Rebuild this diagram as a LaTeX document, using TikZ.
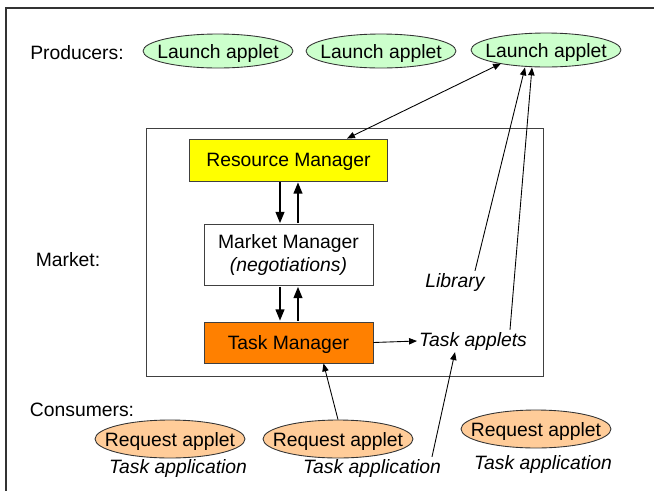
\documentclass[tikz,border=0pt]{standalone}
\usepackage{fontspec}
\setmainfont{Liberation Sans}
\usetikzlibrary{arrows.meta,positioning,shapes.geometric}
\definecolor{launchfill}{HTML}{CCFFCC}
\definecolor{requestfill}{HTML}{FFCC99}
\definecolor{rmfill}{HTML}{FFFF00}
\definecolor{tmfill}{HTML}{FF8000}

\begin{document}
\begin{tikzpicture}[
  x=0.02cm, y=-0.02cm,
  font=\fontsize{11}{13}\selectfont,
  box/.style={draw=black!75, line width=0.5pt, align=center, inner sep=0pt, minimum width=3.38cm},
  applet/.style={ellipse, draw=black!80, line width=0.5pt, inner sep=0pt, text depth=0pt, minimum width=3cm, minimum height=0.68cm},
  lbl/.style={inner sep=1pt, text depth=0pt},
  note/.style={inner sep=1pt, font=\fontsize{11}{13}\selectfont\itshape},
  arr/.style={-{Triangle[length=4.5pt,width=3.6pt]}, line width=0.5pt},
  biarr/.style={{Triangle[length=4.5pt,width=3.6pt]}-{Triangle[length=4.5pt,width=3.6pt]}, line width=0.5pt},
  thk/.style={-{Triangle[length=6.5pt,width=5pt]}, line width=1.1pt, shorten >=0.5pt, shorten <=0.5pt}
]
\useasboundingbox (0,0) rectangle (654,491);
% page frame (only top and left edges show)
\draw[black!80, line width=0.7pt] (6,491) -- (6,8) -- (654,8);

% producers
\node[lbl] (producers) at (77,52) {Producers:};
\node[applet, fill=launchfill] (launch1) at (218,51) {\makebox[0pt]{Launch applet}};
\node[applet, fill=launchfill] (launch2) at (381,51) {\makebox[0pt]{Launch applet}};
\node[applet, fill=launchfill] (launch3) at (546,50) {\makebox[0pt]{Launch applet}};

% market
\node[lbl] (marketlbl) at (68,259) {Market:};
\node[draw=black!75, line width=0.5pt, minimum width=7.94cm, minimum height=4.96cm] (market) at (344.5,252) {};
\node[box, fill=rmfill, text depth=0pt, minimum width=3.96cm, minimum height=0.84cm] (rm) at (288.5,160) {Resource Manager};
\node[box, fill=white, minimum height=1.22cm] (mm) at (288.5,255) {Market Manager\\\textit{(negotiations)}};
\node[box, fill=tmfill, text depth=0pt, minimum height=0.82cm] (tm) at (288.5,342.5) {Task Manager};
\node[note] (library) at (455,282) {Library};
\node[note] (taskapp) at (473,341) {Task applets};

% consumers
\node[lbl] (consumers) at (82,410) {Consumers:};
\node[applet, fill=requestfill, minimum height=0.76cm] (request1) at (170,439) {\makebox[0pt]{Request applet}};
\node[applet, fill=requestfill, minimum height=0.76cm] (request2) at (338,439) {\makebox[0pt]{Request applet}};
\node[applet, fill=requestfill, minimum height=0.76cm] (request3) at (536,429) {\makebox[0pt]{Request applet}};
\node[note] (tapp1) at (178,468) {Task application};
\node[note] (tapp2) at (372,468) {Task application};
\node[note] (tapp3) at (543,464) {Task application};

\draw[thk] ([xshift=-0.17cm]rm.south) -- ([xshift=-0.17cm]mm.north);
\draw[thk] ([xshift=0.19cm]mm.north) -- ([xshift=0.19cm]rm.south);
\draw[thk] ([xshift=-0.17cm]mm.south) -- ([xshift=-0.17cm]tm.north);
\draw[thk] ([xshift=0.19cm]tm.north) -- ([xshift=0.19cm]mm.south);
\draw[arr] (tm.east) -- (taskapp.west);
\draw[biarr] ([xshift=1.17cm]rm.north) -- ([xshift=-0.9cm,yshift=0.08cm]launch3.south);
\draw[arr] ([xshift=0.4cm]library.north) -- ([xshift=-0.42cm]launch3.south);
\draw[arr] ([xshift=0.74cm]taskapp.north) -- ([xshift=-0.28cm]launch3.south);
\draw[arr] (request2.north) -- ([xshift=0.7cm]tm.south);
\draw[arr] ([xshift=1.2cm]tapp2.north) -- ([xshift=-0.36cm]taskapp.south);
\end{tikzpicture}
\end{document}
